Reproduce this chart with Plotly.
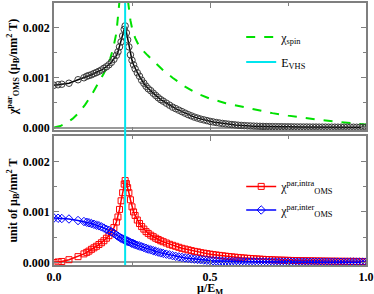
import numpy as np
import plotly.graph_objects as go

# ---------------- data (susceptibilities in units of 1e-3) ----------------
mu_head = [0.0, 0.013, 0.025, 0.048, 0.077, 0.096,
           0.105, 0.112, 0.12, 0.128, 0.136, 0.144, 0.152, 0.16, 0.168, 0.176, 0.184, 0.192,
           0.2, 0.205, 0.21, 0.215, 0.22, 0.225, 0.228, 0.232, 0.236, 0.24, 0.245, 0.25, 0.255, 0.26,
           0.267, 0.274, 0.281, 0.288, 0.295, 0.302, 0.31, 0.318, 0.326, 0.334, 0.342, 0.35,
           0.36, 0.37, 0.38, 0.39, 0.4, 0.41, 0.42, 0.43, 0.44, 0.45, 0.46, 0.47, 0.48, 0.49, 0.5]
mu_tail = [0.51, 0.52, 0.53, 0.54, 0.55, 0.56, 0.57, 0.58, 0.59, 0.60,
           0.61, 0.62, 0.63, 0.64, 0.65, 0.66, 0.67, 0.68, 0.69, 0.70,
           0.71, 0.72, 0.73, 0.74, 0.75, 0.76, 0.77, 0.78, 0.79, 0.80,
           0.81, 0.82, 0.83, 0.84, 0.85, 0.86, 0.87, 0.88, 0.89, 0.90,
           0.91, 0.92, 0.93, 0.94, 0.95, 0.96, 0.97, 0.98, 0.99, 1.00]
mu = mu_head + mu_tail

chi_total = [0.85, 0.86, 0.87, 0.89, 0.96, 1.00,
             1.03, 1.045, 1.06, 1.085, 1.105, 1.13, 1.155, 1.19, 1.22, 1.26, 1.31, 1.37,
             1.45, 1.52, 1.62, 1.72, 1.84, 1.97, 2.04, 1.90, 1.76, 1.62, 1.46, 1.35, 1.26, 1.18,
             1.10, 1.03, 0.95, 0.89, 0.83, 0.78, 0.74, 0.69, 0.645, 0.60, 0.56, 0.53,
             0.49, 0.45, 0.41, 0.38, 0.35, 0.32, 0.29, 0.26, 0.235, 0.21, 0.19, 0.17, 0.155, 0.14, 0.125,
             0.113, 0.102, 0.092, 0.083, 0.075, 0.067, 0.060, 0.054, 0.048, 0.043,
             0.039, 0.035, 0.032, 0.029, 0.027, 0.025, 0.023, 0.021, 0.020, 0.019,
             0.018, 0.017, 0.016, 0.015, 0.014, 0.014, 0.013, 0.012, 0.012, 0.011,
             0.011, 0.010, 0.010, 0.010, 0.009, 0.009, 0.009, 0.008, 0.008, 0.008,
             0.008, 0.007, 0.007, 0.007, 0.007, 0.007, 0.006, 0.006, 0.006, 0.006]

chi_intra = [0.0, 0.01, 0.02, 0.055, 0.115, 0.17,
             0.20, 0.225, 0.26, 0.29, 0.32, 0.355, 0.39, 0.43, 0.48, 0.53, 0.60, 0.69,
             0.80, 0.90, 1.05, 1.22, 1.38, 1.55, 1.62, 1.56, 1.48, 1.38, 1.24, 1.10, 1.00, 0.93,
             0.84, 0.77, 0.71, 0.66, 0.61, 0.575, 0.54, 0.51, 0.48, 0.455, 0.43, 0.41,
             0.385, 0.36, 0.34, 0.32, 0.30, 0.28, 0.265, 0.25, 0.235, 0.22, 0.21, 0.195, 0.185, 0.175, 0.165,
             0.156, 0.148, 0.140, 0.132, 0.125, 0.118, 0.111, 0.105, 0.099, 0.093,
             0.088, 0.083, 0.078, 0.074, 0.070, 0.066, 0.062, 0.059, 0.056, 0.053,
             0.050, 0.048, 0.046, 0.044, 0.042, 0.040, 0.038, 0.037, 0.035, 0.034,
             0.033, 0.032, 0.031, 0.030, 0.029, 0.028, 0.027, 0.026, 0.025, 0.025,
             0.024, 0.023, 0.023, 0.022, 0.022, 0.021, 0.021, 0.020, 0.020, 0.020]

chi_inter = [0.88, 0.875, 0.87, 0.86, 0.83, 0.81,
             0.795, 0.785, 0.77, 0.755, 0.74, 0.725, 0.705, 0.68, 0.655, 0.635, 0.605, 0.575,
             0.54, 0.52, 0.50, 0.48, 0.465, 0.45, 0.44, 0.43, 0.42, 0.41, 0.395, 0.38, 0.37, 0.355,
             0.34, 0.325, 0.31, 0.295, 0.28, 0.265, 0.25, 0.235, 0.22, 0.205, 0.19, 0.18,
             0.165, 0.15, 0.135, 0.122, 0.11, 0.10, 0.09, 0.082, 0.074, 0.066, 0.06, 0.054, 0.048, 0.043, 0.038,
             0.034, 0.031, 0.028, 0.025, 0.023, 0.021, 0.019, 0.018, 0.016, 0.015,
             0.014, 0.013, 0.012, 0.012, 0.011, 0.011, 0.010, 0.010, 0.009, 0.009,
             0.009, 0.008, 0.008, 0.008, 0.008, 0.007, 0.007, 0.007, 0.007, 0.007,
             0.007, 0.006, 0.006, 0.006, 0.006, 0.006, 0.006, 0.006, 0.006, 0.005,
             0.005, 0.005, 0.005, 0.005, 0.005, 0.005, 0.005, 0.005, 0.005, 0.005]

mu_spin = [0.0, 0.02, 0.04, 0.06, 0.08, 0.1, 0.12, 0.14, 0.16, 0.18, 0.19, 0.2, 0.21,
           0.215, 0.22, 0.225, 0.228, 0.232, 0.236, 0.24, 0.245, 0.25, 0.26, 0.27, 0.28,
           0.3, 0.32, 0.35, 0.38, 0.42, 0.46, 0.5, 0.55, 0.6, 0.65, 0.7, 0.75, 0.8, 0.85,
           0.9, 0.95, 1.0]
chi_spin = [0.0, 0.03, 0.09, 0.18, 0.30, 0.46, 0.65, 0.86, 1.09, 1.38, 1.60, 1.90, 2.36,
            2.7, 3.2, 4.0, 5.0, 3.6, 2.6, 2.35, 2.15, 2.0, 1.8, 1.67, 1.58,
            1.45, 1.33, 1.15, 1.0, 0.82, 0.68, 0.58, 0.49, 0.42, 0.35, 0.29, 0.24, 0.19, 0.155,
            0.12, 0.09, 0.06]

E_VHS = 0.228
SCALE = 1e-3

x_ticks = [0.0, 0.5, 1.0]
x_ticklabels = ["0.0", "0.5", "1.0"]

# ---------------- figure ----------------
SERIF = "Liberation Serif"
GRAY = "#7f7f7f"

fig = go.Figure()

fig.add_trace(go.Scatter(
    x=mu_spin, y=np.array(chi_spin) * SCALE, mode="lines",
    line=dict(color="#00e000", width=2, dash="dash"),
    name="χ<sub>spin</sub>", legend="legend", xaxis="x", yaxis="y"))
fig.add_trace(go.Scatter(
    x=mu, y=np.array(chi_total) * SCALE, mode="lines+markers",
    line=dict(color="black", width=1.5),
    marker=dict(symbol="circle-open", size=6.5, color="#3a3a3a", line=dict(width=1)),
    showlegend=False, xaxis="x", yaxis="y"))
fig.add_trace(go.Scatter(
    x=[None], y=[None], mode="lines",
    line=dict(color="#00e5ee", width=2),
    name="E<sub>VHS</sub>", legend="legend2", xaxis="x", yaxis="y"))

fig.add_trace(go.Scatter(
    x=mu, y=np.array(chi_intra) * SCALE, mode="lines+markers",
    line=dict(color="red", width=1.5),
    marker=dict(symbol="square-open", size=6, color="red", line=dict(width=1)),
    name="χ<sup>par,intra</sup><sub>OMS</sub>", legend="legend3",
    xaxis="x2", yaxis="y2"))
fig.add_trace(go.Scatter(
    x=mu, y=np.array(chi_inter) * SCALE, mode="lines+markers",
    line=dict(color="blue", width=1.5),
    marker=dict(symbol="diamond-open", size=6.5, color="blue", line=dict(width=1)),
    name="χ<sup>par,inter</sup><sub>OMS</sub>", legend="legend4",
    xaxis="x2", yaxis="y2"))

fig.add_shape(type="line", xref="x2", yref="paper", x0=E_VHS, x1=E_VHS, y0=0, y1=1,
              line=dict(color="#00e5ee", width=2), layer="above")

tickfont = dict(family=SERIF, size=12, color="black", weight="bold")
titlefont = dict(family=SERIF, size=12, color="black", weight="bold")
axis_common = dict(
    showline=True, linecolor=GRAY, linewidth=1.5, mirror="ticks",
    ticks="inside", ticklen=5, tickcolor=GRAY, tickwidth=1,
    showgrid=False, tickfont=tickfont, automargin=False,
)
xcommon = dict(axis_common, range=[0, 1],
               minor=dict(dtick=0.25, ticks="inside", ticklen=3, tickcolor=GRAY))
ycommon = dict(axis_common, range=[-0.00005, 0.0025], dtick=0.001, tickformat=".3f",
               zeroline=True, zerolinecolor="#9a9a9a", zerolinewidth=2,
               minor=dict(dtick=0.0005, ticks="inside", ticklen=3, tickcolor=GRAY))

legend_common = dict(x=0.6, xanchor="left", yanchor="middle", bgcolor="rgba(0,0,0,0)",
                     font=dict(family=SERIF, size=12, color="black"))

fig.update_layout(
    width=374, height=294,
    margin=dict(l=54, r=8, t=3, b=29),
    paper_bgcolor="white", plot_bgcolor="white",
    font=dict(family=SERIF, color="black"),
    xaxis=dict(xcommon, domain=[0, 1], anchor="y", showticklabels=False, matches="x2"),
    yaxis=dict(ycommon, domain=[0.515, 1], anchor="x",
               title=dict(text="χ<sup>par</sup><sub>OMS</sub> (μ<sub>B</sub>/nm<sup>2</sup> T)",
                          font=titlefont, standoff=3)),
    xaxis2=dict(xcommon, domain=[0, 1], anchor="y2", tickvals=x_ticks, ticktext=x_ticklabels,
                ticklabelstandoff=0),
    yaxis2=dict(ycommon, domain=[0, 0.492], anchor="x2",
                title=dict(text="unit of μ<sub>B</sub>/nm<sup>2</sup> T",
                           font=titlefont, standoff=3)),
    legend=dict(legend_common, y=0.870),
    legend2=dict(legend_common, y=0.775),
    legend3=dict(legend_common, y=0.300),
    legend4=dict(legend_common, y=0.210),
    annotations=[dict(text="μ/E<sub>M</sub>", xref="paper", yref="paper", x=0.5, y=0,
                      xanchor="center", yanchor="top", yshift=-14, showarrow=False,
                      font=titlefont)],
)

fig.write_html("out.html", config={"displayModeBar": False},
               post_script="document.body.style.margin='0px';")
